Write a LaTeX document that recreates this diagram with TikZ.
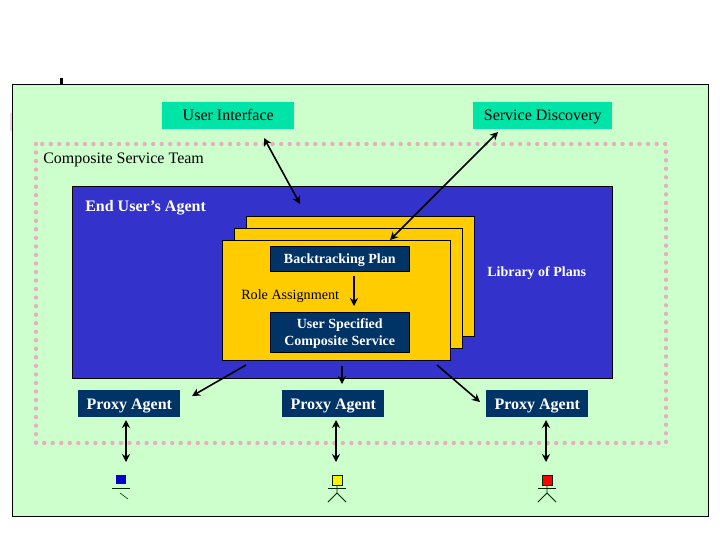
\documentclass[tikz,border=0pt]{standalone}
\usepackage{fontspec}
\setmainfont{Liberation Serif}
\usetikzlibrary{arrows.meta}
\definecolor{bgGreen}{HTML}{CCFFCC}
\definecolor{teal}{HTML}{00E4A8}
\definecolor{agentBlue}{HTML}{3333CC}
\definecolor{planYellow}{HTML}{FFCC00}
\definecolor{navy}{HTML}{003366}
\definecolor{dotPink}{HTML}{E6B0BE}
\tikzset{
  panel/.style={draw=black,line width=0.7pt,anchor=north west,inner sep=0},
  tealbox/.style={fill=teal,anchor=north west,inner sep=0,minimum width=99pt,minimum height=20.25pt,text height=9pt,text depth=1.5pt,font=\fontsize{12}{12}\selectfont},
  navybox/.style={fill=navy,draw=black,line width=0.4pt,text=white,anchor=north west,inner sep=0,align=center,font=\fontsize{10.5}{12.8}\selectfont\bfseries},
  proxybox/.style={fill=navy,text=white,anchor=north west,inner sep=0,minimum width=76.5pt,minimum height=20.25pt,text height=9.6pt,text depth=1pt,font=\fontsize{12}{12}\selectfont\bfseries},
  plain/.style={inner sep=0,anchor=west},
  link/.style={line width=1.2pt,{Stealth[length=6pt,width=6pt]}-{Stealth[length=6pt,width=6pt]}},
  oneway/.style={line width=1.2pt,-{Stealth[length=6pt,width=6pt]}},
  stick/.style={draw=black!85!green,line width=0.7pt},
}
\begin{document}
\begin{tikzpicture}[x=0.75pt,y=-0.75pt]
\useasboundingbox (0,0) rectangle (720,540);
\fill[white] (0,0) rectangle (720,540);
\fill[dotPink!50] (10,113) rectangle (12,131);
\fill[black] (60,78) rectangle (62.5,84);
\node[panel,fill=bgGreen,minimum width=522pt,minimum height=324pt] (outer) at (12,84) {};
\node[tealbox] (ui) at (162,102) {User Interface};
\node[tealbox,minimum width=104.25pt] (sd) at (473,102) {Service Discovery};
\draw[dotPink,line width=3.3pt,line cap=round,dash pattern=on 0pt off 6.4pt] (36,144) rectangle (666,443);
\node[plain,font=\fontsize{12}{12}\selectfont] (team) at (43,160) {Composite Service Team};
\node[panel,fill=agentBlue,minimum width=405pt,minimum height=144pt] (agent) at (72,186) {};
\node[plain,text=white,font=\fontsize{12}{12}\selectfont\bfseries] (eua) at (85,208) {End User’s Agent};
\node[panel,fill=planYellow,minimum width=171pt,minimum height=90pt] (plan3) at (246,216) {};
\node[panel,fill=planYellow,minimum width=171pt,minimum height=90pt] (plan2) at (234,228) {};
\node[panel,fill=planYellow,minimum width=171pt,minimum height=90pt] (plan1) at (222,240) {};
\node[plain,text=white,font=\fontsize{10.5}{12}\selectfont\bfseries] (lib) at (487,273) {Library of Plans};
\node[navybox,minimum width=104.25pt,minimum height=18.75pt,text height=8pt,text depth=1pt] (bt) at (270,246) {Backtracking Plan};
\node[plain,font=\fontsize{10.6}{12}\selectfont] (role) at (241,296) {Role Assignment};
\node[navybox,minimum width=104.25pt,minimum height=30pt] (usc) at (270,312) {\rule{0pt}{10pt}User Specified\\Composite Service};
\node[proxybox] (p1) at (78,390) {Proxy Agent};
\node[proxybox] (p2) at (282,390) {Proxy Agent};
\node[proxybox] (p3) at (486,390) {Proxy Agent};
% connector ends
\coordinate (uiA) at (264,138); \coordinate (uiB) at (300,204);
\coordinate (sdA) at (498,132); \coordinate (sdB) at (390,240);
\coordinate (roleA) at (354,276); \coordinate (roleB) at (354,306);
\coordinate (oa) at (246,365); \coordinate (ob) at (192,396);
\coordinate (ma) at (342,366); \coordinate (mb) at (342,384);
\coordinate (ra) at (437,365); \coordinate (rb) at (480,402);
\coordinate (l1a) at (126,420); \coordinate (l1b) at (126,462);
\coordinate (l2a) at (336,420); \coordinate (l2b) at (336,462);
\coordinate (l3a) at (546,420); \coordinate (l3b) at (546,462);
\draw[link] (uiA) -- (uiB);
\draw[link] (sdA) -- (sdB);
\draw[oneway] (roleA) -- (roleB);
\draw[oneway] (oa) -- (ob);
\draw[oneway] (ma) -- (mb);
\draw[oneway] (ra) -- (rb);
\draw[link] (l1a) -- (l1b);
\draw[link] (l2a) -- (l2b);
\draw[link] (l3a) -- (l3b);
% figures
\fill[blue!80!black] (116,475) rectangle (126,484);
\draw[stick] (112,488.5) -- (130,488.5);
\draw[stick,line width=0.4pt] (120,493) -- (128,499);
\draw[stick,fill=yellow] (332.5,475.5) rectangle (342,485);
\draw[stick] (328,488.5) -- (346,488.5);
\draw[stick] (337,485) -- (337,493) -- (328,502);
\draw[stick] (337,493) -- (346,502);
\draw[stick,fill=red] (542.5,475.5) rectangle (552,485);
\draw[stick] (538,488.5) -- (556,488.5);
\draw[stick] (547,485) -- (547,493) -- (538,502);
\draw[stick] (547,493) -- (556,502);
\end{tikzpicture}
\end{document}
